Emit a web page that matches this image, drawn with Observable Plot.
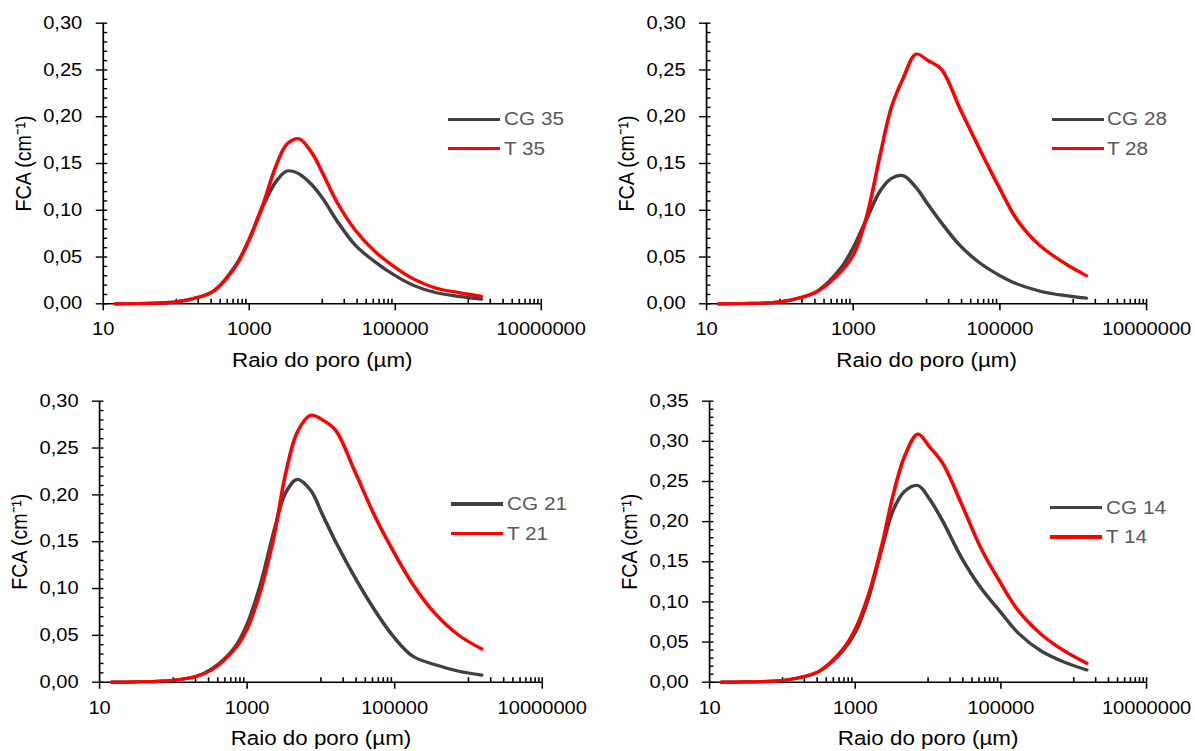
<!DOCTYPE html>
<html><head><meta charset="utf-8">
<script src="https://cdn.jsdelivr.net/npm/d3@7"></script>
<script src="https://cdn.jsdelivr.net/npm/@observablehq/plot@0.6"></script>
<style>
body{margin:0;background:#fff;}
#wrap{position:relative;width:1195px;height:751px;overflow:hidden;background:#fff;font-family:"Liberation Sans",Arial,sans-serif;}
.panel{position:absolute;}
.lg-line{position:absolute;height:3.3px;}
.lg-text{position:absolute;font-size:18.3px;line-height:20px;color:#595959;white-space:nowrap;transform-origin:left center;}
</style></head><body><div id="wrap"></div>
<script>
// Pore radius (µm) at which the curves were read
const radius = [14.5, 31.6, 100, 200, 330, 675, 1000, 1510, 2340, 3310, 4790, 7240, 10500, 15800, 28800, 52500, 95500, 174000, 355000, 741000, 1510000];

const cg35 = [0, 0.0003, 0.002, 0.007, 0.014, 0.043, 0.069, 0.103, 0.131, 0.142, 0.139, 0.127, 0.111, 0.089, 0.062, 0.045, 0.031, 0.020, 0.012, 0.008, 0.005];
const t35  = [0, 0.0003, 0.002, 0.007, 0.014, 0.042, 0.069, 0.104, 0.148, 0.171, 0.1765, 0.161, 0.137, 0.109, 0.078, 0.056, 0.040, 0.027, 0.017, 0.012, 0.008];

const cg28 = [0, 0.0003, 0.002, 0.007, 0.014, 0.038, 0.060, 0.090, 0.121, 0.134, 0.137, 0.124, 0.106, 0.087, 0.062, 0.044, 0.031, 0.021, 0.0135, 0.009, 0.006];
const t28  = [0, 0.0003, 0.002, 0.007, 0.0135, 0.034, 0.052, 0.092, 0.160, 0.210, 0.241, 0.267, 0.260, 0.251, 0.208, 0.166, 0.126, 0.089, 0.062, 0.044, 0.030];

const cg21 = [0, 0.0003, 0.002, 0.006, 0.014, 0.037, 0.062, 0.104, 0.163, 0.202, 0.2165, 0.205, 0.179, 0.150, 0.112, 0.078, 0.049, 0.028, 0.0185, 0.0117, 0.0075];
const t21  = [0, 0.0003, 0.002, 0.006, 0.013, 0.035, 0.057, 0.097, 0.158, 0.222, 0.267, 0.285, 0.280, 0.269, 0.225, 0.179, 0.140, 0.105, 0.073, 0.050, 0.0355];

const cg14 = [0, 0.0003, 0.002, 0.007, 0.014, 0.039, 0.062, 0.104, 0.168, 0.214, 0.238, 0.245, 0.228, 0.201, 0.155, 0.118, 0.089, 0.061, 0.039, 0.025, 0.0153];
const t14  = [0, 0.0003, 0.002, 0.007, 0.0145, 0.041, 0.066, 0.108, 0.172, 0.233, 0.282, 0.309, 0.293, 0.273, 0.222, 0.168, 0.126, 0.089, 0.060, 0.039, 0.0236];

const xTicks = [10, 1000, 100000, 10000000];
const yTicks30 = [0, 0.05, 0.10, 0.15, 0.20, 0.25, 0.30];
const yTicks35 = [0, 0.05, 0.10, 0.15, 0.20, 0.25, 0.30, 0.35];
const xLabel = "Raio do poro (µm)";
const yLabel = "FCA (cm⁻¹)";

const xMinor = [100, 1e4, 1e6].flatMap(b => d3.range(1, 10).map(m => m * b)).concat([1e7]);
const S = 1.135; // horizontal stretch of the original figure
const grey = "#404040", red = "#ff0000";
const fmtY = d => d.toFixed(2).replace(".", ",");

const panels = [
  {id: "35", cg: cg35, t: t35, yTicks: yTicks30, left: 0,   top: 0,   w: 597, h: 375, ml: 102.7, mr: 56.3, mt: 22.7, mb: 71.7, lx: 448.3, ly: 119.3, tx: 504},
  {id: "28", cg: cg28, t: t28, yTicks: yTicks30, left: 600, top: 0,   w: 595, h: 375, ml: 106,   mr: 49,   mt: 22.7, mb: 71.7, lx: 1052, ly: 119.3, tx: 1107},
  {id: "21", cg: cg21, t: t21, yTicks: yTicks30, left: 0,   top: 378, w: 597, h: 373, ml: 99,    mr: 55.3, mt: 22.7, mb: 69.3, lx: 450.7, ly: 504, tx: 506.5},
  {id: "14", cg: cg14, t: t14, yTicks: yTicks35, left: 600, top: 378, w: 595, h: 373, ml: 109,   mr: 49,   mt: 22.7, mb: 69.3, lx: 1050.4, ly: 507.5, tx: 1106}
];

const wrap = document.getElementById("wrap");

for (const p of panels) {
  const sCG = "CG " + p.id, sT = "T " + p.id;
  const data = [
    ...radius.map((r, i) => ({r, v: p.cg[i], s: sCG})),
    ...radius.map((r, i) => ({r, v: p.t[i], s: sT}))
  ];
  const yMax = p.yTicks[p.yTicks.length - 1];
  const yMinor = d3.range(0, Math.round(yMax * 100) + 1).map(i => i / 100);
  const W = p.w / S;
  const plotW = (p.w - p.ml - p.mr) / S;
  const plotH = p.h - p.mt - p.mb;
  const svg = Plot.plot({
    width: W, height: p.h,
    marginLeft: p.ml / S, marginRight: p.mr / S, marginTop: p.mt, marginBottom: p.mb,
    style: {fontFamily: "'Liberation Sans', Arial, sans-serif", fontSize: "17.7px", color: "#000", background: "transparent", overflow: "visible"},
    x: {type: "log", domain: [10, 1e7]},
    y: {domain: [0, yMax]},
    color: {domain: [sCG, sT], range: [grey, red]},
    marks: [
      Plot.axisX({ticks: xTicks, tickFormat: d => String(d), tickSize: 7, tickPadding: 12, strokeWidth: 1.4, label: null}),
      Plot.axisX({ticks: [], label: xLabel, labelAnchor: "center", labelArrow: "none", labelOffset: 63, fontSize: 19.7}),
      Plot.axisY({ticks: p.yTicks, tickFormat: fmtY, tickSize: 7 / S, tickPadding: 14 / S, strokeWidth: 1.4, label: null}),
      Plot.axisY({ticks: [], label: yLabel, labelAnchor: "center", labelArrow: "none", labelOffset: 88 / S, fontSize: 19.7}),
      Plot.tickY(yMinor, {y: d => d, insetRight: plotW - 4.5 / S, stroke: "#000", strokeWidth: 1.4}),
      Plot.tickX(xMinor, {x: d => d, insetTop: plotH - 4.5, stroke: "#000", strokeWidth: 1.4}),
      Plot.ruleX([10], {stroke: "#000", strokeWidth: 1.5}),
      Plot.ruleY([0], {stroke: "#000", strokeWidth: 1.5}),
      Plot.line(data, {x: "r", y: "v", stroke: "s", z: "s", strokeWidth: 3.2, curve: "catmull-rom"})
    ]
  });
  svg.setAttribute("width", p.w);
  svg.setAttribute("height", p.h);
  svg.setAttribute("viewBox", `0 0 ${W} ${p.h}`);
  svg.setAttribute("preserveAspectRatio", "none");
  svg.style.width = p.w + "px";
  svg.style.height = p.h + "px";
  svg.style.maxWidth = "none";
  svg.classList.add("panel");
  svg.style.left = p.left + "px";
  svg.style.top = p.top + "px";
  wrap.appendChild(svg);

  // legend (inside the plot area, as in the reference)
  [[sCG, grey], [sT, red]].forEach(([name, col], i) => {
    const y = p.ly + i * 29.5;
    const ln = document.createElement("div");
    ln.className = "lg-line";
    ln.style.left = p.lx + "px";
    ln.style.width = "52px";
    ln.style.top = (y - 1.6) + "px";
    ln.style.background = col;
    wrap.appendChild(ln);
    const tx = document.createElement("div");
    tx.className = "lg-text";
    tx.textContent = name;
    tx.style.left = p.tx + "px";
    tx.style.top = (y - 10) + "px";
    tx.style.transform = `scaleX(${S})`;
    wrap.appendChild(tx);
  });
}
</script>
</body></html>
